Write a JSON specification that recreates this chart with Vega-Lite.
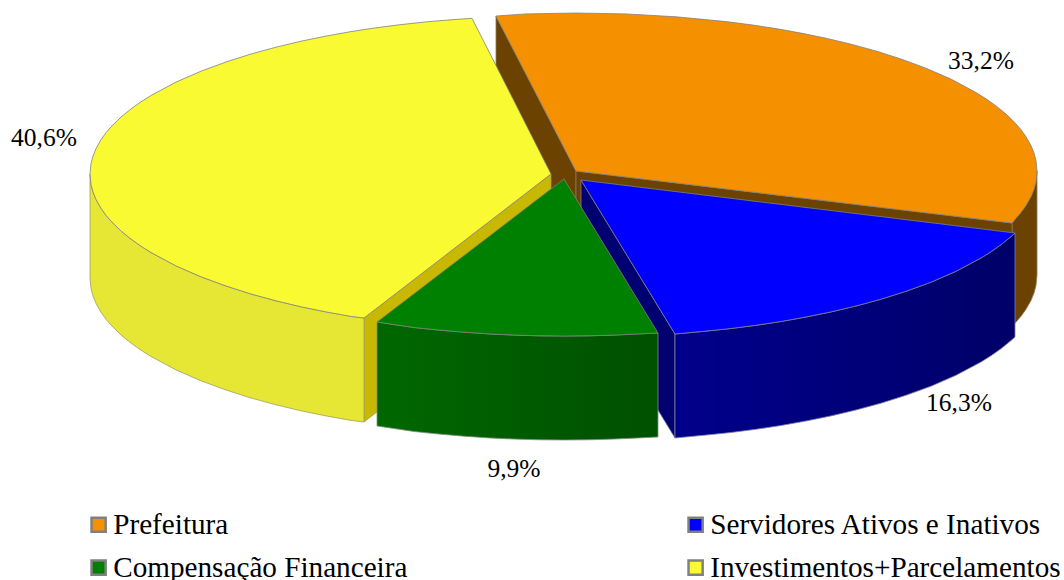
{"$schema":"https://vega.github.io/schema/vega-lite/v6.json","width":1064,"height":580,"padding":0,"autosize":"none","background":"white","view":{"stroke":null},
"config":{"font":"Liberation Serif"},
"datasets":{
"paredes":[
{"p":"orange_outer","x":1012,"y":223,"y2":327},{"p":"orange_outer","x":1016,"y":218.1,"y2":322.1},{"p":"orange_outer","x":1021,"y":212.3,"y2":316.3},{"p":"orange_outer","x":1026,"y":205.3,"y2":309.3},{"p":"orange_outer","x":1031,"y":196.4,"y2":300.4},{"p":"orange_outer","x":1034,"y":189,"y2":293},{"p":"orange_outer","x":1036,"y":181.4,"y2":285.4},{"p":"orange_outer","x":1037,"y":171,"y2":275},
{"p":"orange_cut1","x":496,"y":16,"y2":120},{"p":"orange_cut1","x":576,"y":171,"y2":275},
{"p":"orange_cut2","x":576,"y":171,"y2":275},{"p":"orange_cut2","x":1012,"y":223,"y2":327},
{"p":"yellow_cut","x":364,"y":318,"y2":422},{"p":"yellow_cut","x":551,"y":174,"y2":278},
{"p":"yellow_outer","x":90,"y":174,"y2":278},{"p":"yellow_outer","x":91,"y":184.4,"y2":288.4},{"p":"yellow_outer","x":93,"y":192,"y2":296},{"p":"yellow_outer","x":96,"y":199.4,"y2":303.4},{"p":"yellow_outer","x":101,"y":208.3,"y2":312.3},{"p":"yellow_outer","x":106,"y":215.3,"y2":319.3},{"p":"yellow_outer","x":111,"y":221.1,"y2":325.1},{"p":"yellow_outer","x":121,"y":231,"y2":335},{"p":"yellow_outer","x":131,"y":239.1,"y2":343.1},{"p":"yellow_outer","x":141,"y":246.2,"y2":350.2},{"p":"yellow_outer","x":151,"y":252.5,"y2":356.5},{"p":"yellow_outer","x":176,"y":265.9,"y2":369.9},{"p":"yellow_outer","x":201,"y":276.8,"y2":380.8},{"p":"yellow_outer","x":226,"y":286,"y2":390},{"p":"yellow_outer","x":251,"y":294,"y2":398},{"p":"yellow_outer","x":276,"y":300.8,"y2":404.8},{"p":"yellow_outer","x":301,"y":306.8,"y2":410.8},{"p":"yellow_outer","x":326,"y":311.9,"y2":415.9},{"p":"yellow_outer","x":351,"y":316.4,"y2":420.4},{"p":"yellow_outer","x":364,"y":318,"y2":422},
{"p":"blue_cut","x":581,"y":180,"y2":284},{"p":"blue_cut","x":675,"y":334,"y2":438},
{"p":"blue_outer","x":675,"y":334,"y2":438},{"p":"blue_outer","x":706,"y":331.1,"y2":435.1},{"p":"blue_outer","x":731,"y":328.5,"y2":432.5},{"p":"blue_outer","x":756,"y":325.3,"y2":429.3},{"p":"blue_outer","x":781,"y":321.5,"y2":425.5},{"p":"blue_outer","x":806,"y":317,"y2":421},{"p":"blue_outer","x":831,"y":311.9,"y2":415.9},{"p":"blue_outer","x":856,"y":306,"y2":410},{"p":"blue_outer","x":881,"y":299.2,"y2":403.2},{"p":"blue_outer","x":906,"y":291.3,"y2":395.3},{"p":"blue_outer","x":931,"y":282.2,"y2":386.2},{"p":"blue_outer","x":956,"y":271.3,"y2":375.3},{"p":"blue_outer","x":981,"y":258,"y2":362},{"p":"blue_outer","x":991,"y":251.7,"y2":355.7},{"p":"blue_outer","x":1001,"y":244.7,"y2":348.7},{"p":"blue_outer","x":1011,"y":236.6,"y2":340.6},{"p":"blue_outer","x":1015,"y":233,"y2":337},
{"p":"green_outer","x":377,"y":322,"y2":426},{"p":"green_outer","x":414,"y":327.5,"y2":431.5},{"p":"green_outer","x":439,"y":330.1,"y2":434.1},{"p":"green_outer","x":464,"y":332.2,"y2":436.2},{"p":"green_outer","x":489,"y":333.9,"y2":437.9},{"p":"green_outer","x":514,"y":335.1,"y2":439.1},{"p":"green_outer","x":539,"y":335.8,"y2":439.8},{"p":"green_outer","x":564,"y":336,"y2":440},{"p":"green_outer","x":589,"y":335.8,"y2":439.8},{"p":"green_outer","x":614,"y":335.1,"y2":439.1},{"p":"green_outer","x":639,"y":333.9,"y2":437.9},{"p":"green_outer","x":658,"y":333,"y2":437}
],
"topos":[
{"fatia":"Prefeitura","x":496,"y":16,"y2":16},{"fatia":"Prefeitura","x":526,"y":13.9,"y2":74.1},{"fatia":"Prefeitura","x":576,"y":13,"y2":171},{"fatia":"Prefeitura","x":626,"y":13.9,"y2":177},{"fatia":"Prefeitura","x":676,"y":16.8,"y2":182.9},{"fatia":"Prefeitura","x":726,"y":21.6,"y2":188.9},{"fatia":"Prefeitura","x":751,"y":24.8,"y2":191.9},{"fatia":"Prefeitura","x":776,"y":28.6,"y2":194.9},{"fatia":"Prefeitura","x":801,"y":33.1,"y2":197.8},{"fatia":"Prefeitura","x":826,"y":38.2,"y2":200.8},{"fatia":"Prefeitura","x":851,"y":44.2,"y2":203.8},{"fatia":"Prefeitura","x":876,"y":51,"y2":206.8},{"fatia":"Prefeitura","x":901,"y":59,"y2":209.8},{"fatia":"Prefeitura","x":926,"y":68.2,"y2":212.8},{"fatia":"Prefeitura","x":951,"y":79.1,"y2":215.7},{"fatia":"Prefeitura","x":976,"y":92.5,"y2":218.7},{"fatia":"Prefeitura","x":986,"y":98.8,"y2":219.9},{"fatia":"Prefeitura","x":996,"y":105.9,"y2":221.1},{"fatia":"Prefeitura","x":1006,"y":114,"y2":222.3},{"fatia":"Prefeitura","x":1012,"y":119.7,"y2":223},{"fatia":"Prefeitura","x":1016,"y":123.9,"y2":218.1},{"fatia":"Prefeitura","x":1021,"y":129.7,"y2":212.3},{"fatia":"Prefeitura","x":1026,"y":136.7,"y2":205.3},{"fatia":"Prefeitura","x":1031,"y":145.6,"y2":196.4},{"fatia":"Prefeitura","x":1034,"y":153,"y2":189},{"fatia":"Prefeitura","x":1036,"y":160.6,"y2":181.4},{"fatia":"Prefeitura","x":1037,"y":171,"y2":171},
{"fatia":"Servidores Ativos e Inativos","x":581,"y":180,"y2":180},{"fatia":"Servidores Ativos e Inativos","x":675,"y":191.5,"y2":334},{"fatia":"Servidores Ativos e Inativos","x":706,"y":195.3,"y2":331.1},{"fatia":"Servidores Ativos e Inativos","x":731,"y":198.3,"y2":328.5},{"fatia":"Servidores Ativos e Inativos","x":756,"y":201.4,"y2":325.3},{"fatia":"Servidores Ativos e Inativos","x":781,"y":204.4,"y2":321.5},{"fatia":"Servidores Ativos e Inativos","x":806,"y":207.5,"y2":317},{"fatia":"Servidores Ativos e Inativos","x":831,"y":210.5,"y2":311.9},{"fatia":"Servidores Ativos e Inativos","x":856,"y":213.6,"y2":306},{"fatia":"Servidores Ativos e Inativos","x":881,"y":216.6,"y2":299.2},{"fatia":"Servidores Ativos e Inativos","x":906,"y":219.7,"y2":291.3},{"fatia":"Servidores Ativos e Inativos","x":931,"y":222.7,"y2":282.2},{"fatia":"Servidores Ativos e Inativos","x":956,"y":225.8,"y2":271.3},{"fatia":"Servidores Ativos e Inativos","x":981,"y":228.8,"y2":258},{"fatia":"Servidores Ativos e Inativos","x":991,"y":230.1,"y2":251.7},{"fatia":"Servidores Ativos e Inativos","x":1001,"y":231.3,"y2":244.7},{"fatia":"Servidores Ativos e Inativos","x":1011,"y":232.5,"y2":236.6},{"fatia":"Servidores Ativos e Inativos","x":1015,"y":233,"y2":233},
{"fatia":"Compensação Financeira","x":377,"y":322,"y2":322},{"fatia":"Compensação Financeira","x":414,"y":293.7,"y2":327.5},{"fatia":"Compensação Financeira","x":439,"y":274.6,"y2":330.1},{"fatia":"Compensação Financeira","x":464,"y":255.5,"y2":332.2},{"fatia":"Compensação Financeira","x":489,"y":236.4,"y2":333.9},{"fatia":"Compensação Financeira","x":514,"y":217.2,"y2":335.1},{"fatia":"Compensação Financeira","x":539,"y":198.1,"y2":335.8},{"fatia":"Compensação Financeira","x":564,"y":179,"y2":336},{"fatia":"Compensação Financeira","x":589,"y":220,"y2":335.8},{"fatia":"Compensação Financeira","x":614,"y":260.9,"y2":335.1},{"fatia":"Compensação Financeira","x":639,"y":301.9,"y2":333.9},{"fatia":"Compensação Financeira","x":658,"y":333,"y2":333},
{"fatia":"Investimentos+Parcelamentos","x":90,"y":174,"y2":174},{"fatia":"Investimentos+Parcelamentos","x":91,"y":163.6,"y2":184.4},{"fatia":"Investimentos+Parcelamentos","x":93,"y":156,"y2":192},{"fatia":"Investimentos+Parcelamentos","x":96,"y":148.6,"y2":199.4},{"fatia":"Investimentos+Parcelamentos","x":101,"y":139.7,"y2":208.3},{"fatia":"Investimentos+Parcelamentos","x":106,"y":132.7,"y2":215.3},{"fatia":"Investimentos+Parcelamentos","x":111,"y":126.9,"y2":221.1},{"fatia":"Investimentos+Parcelamentos","x":121,"y":117,"y2":231},{"fatia":"Investimentos+Parcelamentos","x":131,"y":108.9,"y2":239.1},{"fatia":"Investimentos+Parcelamentos","x":141,"y":101.8,"y2":246.2},{"fatia":"Investimentos+Parcelamentos","x":151,"y":95.5,"y2":252.5},{"fatia":"Investimentos+Parcelamentos","x":176,"y":82.1,"y2":265.9},{"fatia":"Investimentos+Parcelamentos","x":201,"y":71.2,"y2":276.8},{"fatia":"Investimentos+Parcelamentos","x":226,"y":62,"y2":286},{"fatia":"Investimentos+Parcelamentos","x":251,"y":54,"y2":294},{"fatia":"Investimentos+Parcelamentos","x":276,"y":47.2,"y2":300.8},{"fatia":"Investimentos+Parcelamentos","x":301,"y":41.2,"y2":306.8},{"fatia":"Investimentos+Parcelamentos","x":326,"y":36.1,"y2":311.9},{"fatia":"Investimentos+Parcelamentos","x":351,"y":31.6,"y2":316.4},{"fatia":"Investimentos+Parcelamentos","x":364,"y":29.6,"y2":318},{"fatia":"Investimentos+Parcelamentos","x":376,"y":27.8,"y2":308.8},{"fatia":"Investimentos+Parcelamentos","x":401,"y":24.6,"y2":289.5},{"fatia":"Investimentos+Parcelamentos","x":426,"y":21.9,"y2":270.3},{"fatia":"Investimentos+Parcelamentos","x":451,"y":19.8,"y2":251},{"fatia":"Investimentos+Parcelamentos","x":472,"y":18.3,"y2":234.8},{"fatia":"Investimentos+Parcelamentos","x":501,"y":75.3,"y2":212.5},{"fatia":"Investimentos+Parcelamentos","x":551,"y":174,"y2":174}
],
"rotulos":[
{"r":"33,2%","x":981,"y":61},{"r":"16,3%","x":959,"y":403},{"r":"9,9%","x":514,"y":469},{"r":"40,6%","x":44,"y":138}
]},
"encoding":{
"x":{"field":"x","type":"quantitative","axis":null,"scale":{"domain":[0,1064],"nice":false,"zero":false}},
"y":{"field":"y","type":"quantitative","axis":null,"stack":null,"scale":{"domain":[580,0],"nice":false,"zero":false}}
},
"layer":[
{"data":{"name":"paredes"},"transform":[{"filter":"datum.p==='orange_outer'||datum.p==='orange_cut1'||datum.p==='orange_cut2'"}],"mark":{"type":"area","orient":"vertical","color":"#6b4200","stroke":"#8a7a60","strokeWidth":0.8},"encoding":{"y2":{"field":"y2"},"detail":{"field":"p"}}},
{"data":{"name":"paredes"},"transform":[{"filter":"datum.p==='yellow_cut'"}],"mark":{"type":"area","orient":"vertical","color":"#c8b800","stroke":"#a0a060","strokeWidth":0.8},"encoding":{"y2":{"field":"y2"}}},
{"data":{"name":"paredes"},"transform":[{"filter":"datum.p==='yellow_outer'"}],"mark":{"type":"area","orient":"vertical","color":"#e6e634","stroke":"#a0a060","strokeWidth":0.8},"encoding":{"y2":{"field":"y2"}}},
{"data":{"name":"paredes"},"transform":[{"filter":"datum.p==='blue_cut'"}],"mark":{"type":"area","orient":"vertical","color":"#000070","stroke":"#8080a0","strokeWidth":0.8},"encoding":{"y2":{"field":"y2"}}},
{"data":{"name":"paredes"},"transform":[{"filter":"datum.p==='blue_outer'"}],"mark":{"type":"area","orient":"vertical","color":{"gradient":"linear","x1":0,"y1":0,"x2":1,"y2":0,"stops":[{"offset":0,"color":"#00008c"},{"offset":1,"color":"#000068"}]},"stroke":"#8080a0","strokeWidth":0.8},"encoding":{"y2":{"field":"y2"}}},
{"data":{"name":"paredes"},"transform":[{"filter":"datum.p==='green_outer'"}],"mark":{"type":"area","orient":"vertical","color":{"gradient":"linear","x1":0,"y1":0,"x2":1,"y2":0,"stops":[{"offset":0,"color":"#006800"},{"offset":1,"color":"#005000"}]},"stroke":"#808f80","strokeWidth":0.8},"encoding":{"y2":{"field":"y2"}}},
{"data":{"name":"topos"},"mark":{"type":"area","orient":"vertical","stroke":"#808080","strokeWidth":0.8},
"encoding":{"y2":{"field":"y2"},
"color":{"field":"fatia","type":"nominal","sort":null,
"scale":{"domain":["Prefeitura","Compensação Financeira","Servidores Ativos e Inativos","Investimentos+Parcelamentos"],"range":["#f59100","#008000","#0000ff","#fafa33"]},
"legend":{"title":null,"orient":"none","legendX":84,"legendY":510,"columns":2,"columnPadding":273,"rowPadding":13,"symbolType":"square","symbolSize":200,"symbolStrokeColor":"#808080","symbolStrokeWidth":2.5,"symbolOpacity":1,"labelFont":"Liberation Serif","labelFontSize":29.2,"labelColor":"#000000","labelLimit":500,"labelOffset":0,"gridAlign":"each"}}}},
{"data":{"name":"rotulos"},"mark":{"type":"text","font":"Liberation Serif","fontSize":25.5,"color":"#000000","align":"center","baseline":"middle"},"encoding":{"text":{"field":"r"}}}
]}
